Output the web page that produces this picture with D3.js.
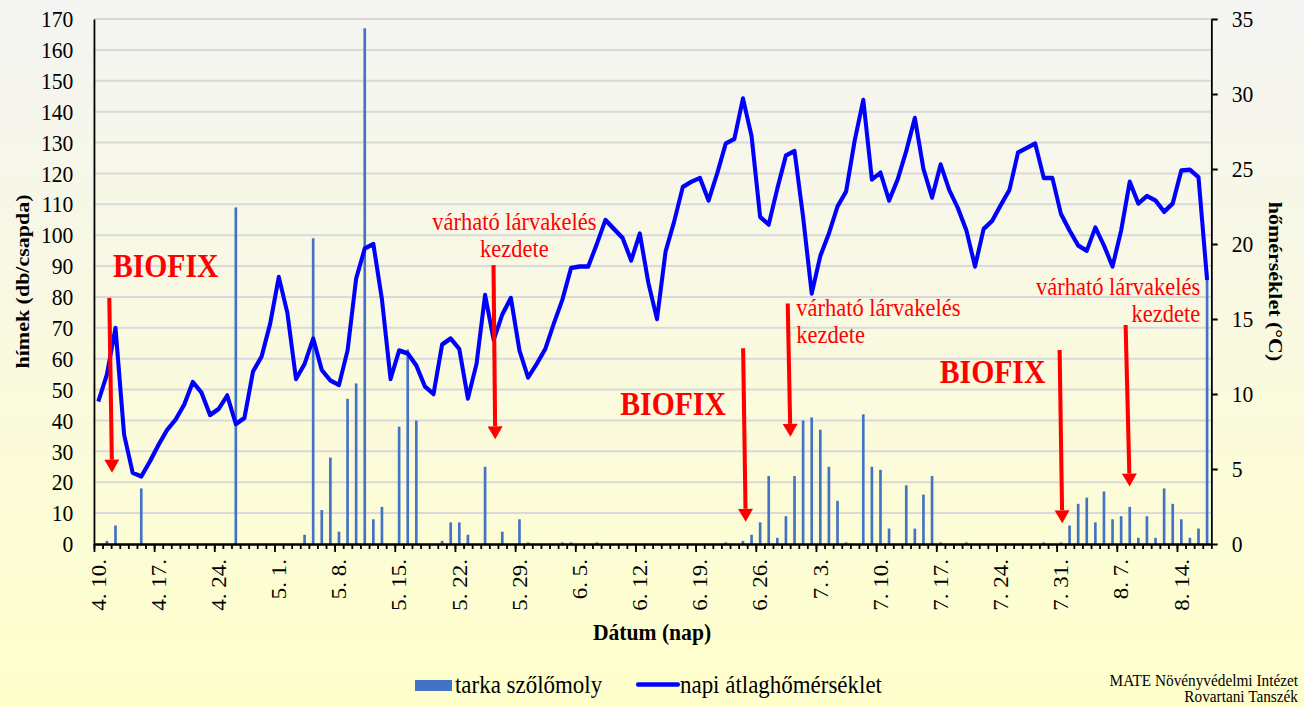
<!DOCTYPE html>
<meta charset="utf-8">
<title>Tarka szőlőmoly rajzás</title>
<html>
<style>
body { margin: 0; }
svg { display: block; font-family: "Liberation Serif", "Times New Roman", serif; }
</style>
<body>
<svg width="1304" height="707"></svg>
<script src="https://d3js.org/d3.v7.min.js"></script>
<script>
// napok: 4.10. - 8.17.
var firstDay = new Date(2023, 3, 10), dayAfterLast = new Date(2023, 7, 18);
var days = d3.timeDay.range(firstDay, dayAfterLast);
var dayLabels = days.map(d3.timeFormat("%-m. %-d."));

// tarka szőlőmoly (db/csapda), naponta
var moths = [
  0, 1, 6, 0, 0, 18, 0, 0, 0, 0,
  0, 0, 0, 0, 0, 0, 109, 0, 0, 0,
  0, 0, 0, 0, 3, 99, 11, 28, 4, 47,
  52, 167, 8, 12, 0, 38, 63, 40, 0, 0,
  1, 7, 7, 3, 0, 25, 0, 4, 0, 8,
  0.5, 0, 0, 0, 0.5, 0.5, 0, 0, 0.5, 0,
  0, 0, 0, 0, 0, 0, 0, 0, 0, 0,
  0, 0, 0, 0.5, 0, 1, 3, 7, 22, 2,
  9, 22, 40, 41, 37, 25, 14, 0.5, 0, 42,
  25, 24, 5, 0, 19, 5, 16, 22, 0.5, 0,
  0, 0.5, 0, 0, 0, 0, 0, 0, 0, 0,
  0.5, 0, 0.5, 6, 13, 15, 7, 17, 8, 9,
  12, 2, 9, 2, 18, 13, 8, 2, 5, 86
];

// napi átlaghőmérséklet (°C)
var temps = [
  9.5, 11.3, 14.4, 7.3, 4.75, 4.5, 5.5, 6.6, 7.6, 8.3,
  9.3, 10.8, 10.1, 8.6, 9.0, 9.9, 8.0, 8.4, 11.5, 12.5,
  14.7, 17.8, 15.4, 11.0, 12.0, 13.7, 11.6, 10.9, 10.6, 12.9,
  17.7, 19.7, 20.0, 16.3, 11.0, 12.9, 12.7, 11.9, 10.5, 10.0,
  13.3, 13.7, 13.0, 9.7, 12.0, 16.6, 13.6, 15.3, 16.4, 12.9,
  11.1, 12.0, 13.0, 14.7, 16.3, 18.4, 18.5, 18.5, 20.0, 21.6,
  21.0, 20.4, 18.9, 20.7, 17.4, 15.0, 19.5, 21.5, 23.8, 24.15,
  24.4, 22.9, 24.7, 26.7, 27.0, 29.7, 27.2, 21.8, 21.3, 23.7,
  25.9, 26.2, 21.8, 16.7, 19.2, 20.7, 22.5, 23.5, 26.9, 29.6,
  24.3, 24.75, 22.9, 24.3, 26.2, 28.4, 25.0, 23.1, 25.3, 23.6,
  22.4, 20.9, 18.5, 21.0, 21.55, 22.6, 23.6, 26.1, 26.4, 26.7,
  24.4, 24.4, 22.0, 20.9, 19.9, 19.55, 21.1, 19.9, 18.5, 20.9,
  24.15, 22.7, 23.2, 22.9, 22.15, 22.7, 24.9, 24.95, 24.45, 17.6
];

var leftTicks = d3.range(0, 171, 10);
var rightTicks = d3.range(0, 36, 5);
var labelStep = 7;

// nyilak: [nap, db] -> [nap, db]
var arrows = [
  [1.28, 79.7, 1.6, 23.1],
  [45.98, 90.3, 46.18, 33.9],
  [75.02, 63.4, 75.32, 7.2],
  [80.21, 77.9, 80.52, 34.7],
  [111.84, 62.8, 112.15, 6.7],
  [119.52, 70.9, 119.99, 18.6]
];
var biofix = [[1.7, 86.4], [60.73, 41.8], [97.9, 52.1]];
var larvaNotes = [
  {day: 48.4, v: 101.7, anchor: "middle"},
  {day: 81.2, v: 73.8, anchor: "start"},
  {day: 128.2, v: 80.6, anchor: "end"}
];

// the picture is squeezed horizontally a bit, so draw wider and squash
var SX = 0.9;
var W = 1304 / SX, H = 707;
var svg = d3.select("svg")
  .attr("viewBox", "0 0 " + W + " " + H)
  .attr("preserveAspectRatio", "none");

var grad = svg.append("defs").append("linearGradient")
  .attr("id", "bg").attr("x1", 0).attr("y1", 0).attr("x2", 0).attr("y2", 1);
grad.append("stop").attr("offset", "0%").attr("stop-color", "#f4f4f3");
grad.append("stop").attr("offset", "100%").attr("stop-color", "#ffffcc");
svg.append("rect").attr("width", W).attr("height", H).attr("fill", "url(#bg)");

var pLeft = 94 / SX, pRight = 1211.4 / SX, pTop = 19, pBottom = 544;

var x = d3.scaleBand().domain(dayLabels).range([pLeft, pRight]);
var xb = d3.scaleLinear().domain([0, days.length]).range([pLeft, pRight]);
var y = d3.scaleLinear().domain([0, 170]).range([pBottom, pTop]);
var yT = d3.scaleLinear().domain([0, 35]).range([pBottom, pTop]);
var xd = function(d) { return xb(d + 0.5); };

// gridlines
svg.append("g").selectAll("line")
  .data(leftTicks.slice(1))
  .join("line")
    .attr("x1", pLeft).attr("x2", pRight)
    .attr("y1", y).attr("y2", y)
    .attr("stroke", "#d9d9d9").attr("stroke-width", 2);

// bars
var bw = x.bandwidth() * 0.31;
svg.append("g").selectAll("rect")
  .data(moths.map(function(v, i) { return {day: dayLabels[i], v: v}; }).filter(function(d) { return d.v > 0; }))
  .join("rect")
    .attr("x", function(d) { return x(d.day) + x.bandwidth() / 2 - bw / 2; })
    .attr("y", function(d) { return y(d.v); })
    .attr("width", bw)
    .attr("height", function(d) { return pBottom - y(d.v); })
    .attr("fill", "#4472c4");

// temperature line
var line = d3.line()
  .x(function(d, i) { return x(dayLabels[i]) + x.bandwidth() / 2; })
  .y(function(d) { return yT(d); });
svg.append("path")
  .datum(temps)
  .attr("d", line)
  .attr("fill", "none")
  .attr("stroke", "#0000ff")
  .attr("stroke-width", 4.5)
  .attr("stroke-linejoin", "round");

// axes
function styleAxis(g, size) {
  g.attr("font-family", null).attr("font-size", null);
  g.selectAll(".domain").attr("stroke", "#000").attr("stroke-width", 2);
  g.selectAll(".tick line").attr("stroke", "#000").attr("stroke-width", 2);
  g.selectAll("text").attr("fill", "#000").attr("font-size", size);
}

svg.append("g")
  .attr("transform", "translate(" + pLeft + ",0)")
  .call(d3.axisLeft(y).tickValues(leftTicks).tickSize(0).tickPadding(23))
  .call(styleAxis, 24);

svg.append("g")
  .attr("transform", "translate(" + pRight + ",0)")
  .call(d3.axisRight(yT).tickValues(rightTicks).tickSize(7).tickSizeOuter(0).tickPadding(15.5))
  .call(styleAxis, 24);

svg.append("g")
  .attr("transform", "translate(0," + pBottom + ")")
  .call(d3.axisBottom(xb).tickValues(d3.range(0, days.length + 1)).tickSize(5).tickSizeOuter(0).tickFormat(""))
  .call(styleAxis, 10);

svg.append("g")
  .attr("transform", "translate(0," + pBottom + ")")
  .call(d3.axisBottom(xb).tickValues(d3.range(0, days.length + 1, labelStep)).tickSize(8).tickSizeOuter(0).tickFormat(""))
  .call(styleAxis, 10);

var xl = svg.append("g")
  .attr("transform", "translate(0," + pBottom + ")")
  .call(d3.axisBottom(x).tickValues(dayLabels.filter(function(d, i) { return i % labelStep === 0; })).tickSize(0))
  .call(styleAxis, 23);
xl.select(".domain").remove();
xl.selectAll("text")
  .attr("transform", "rotate(-90)")
  .attr("x", -15).attr("y", 0).attr("dy", "0.35em")
  .attr("text-anchor", "end");

// axis titles
svg.append("text")
  .attr("x", 652 / SX).attr("y", 640)
  .attr("text-anchor", "middle").attr("font-weight", "bold").attr("font-size", 24)
  .text("Dátum (nap)");

svg.append("text")
  .attr("transform", "translate(" + (29 / SX) + "," + (pTop + pBottom) / 2 + ") rotate(-90)")
  .attr("text-anchor", "middle").attr("font-weight", "bold").attr("font-size", 22)
  .text("hímek (db/csapda)");

svg.append("text")
  .attr("transform", "translate(" + (1269 / SX) + "," + (pTop + pBottom) / 2 + ") rotate(90)")
  .attr("text-anchor", "middle").attr("font-weight", "bold").attr("font-size", 22)
  .text("hőmérséklet (°C)");

// annotations
var red = "#ff0000";
var ann = svg.append("g");
arrows.forEach(function(a) {
  var x1 = xd(a[0]) * SX, y1 = y(a[1]), x2 = xd(a[2]) * SX, y2 = y(a[3]);
  var len = Math.hypot(x2 - x1, y2 - y1), ux = (x2 - x1) / len, uy = (y2 - y1) / len;
  var bx = x2 - ux * 13, by = y2 - uy * 13;
  ann.append("line")
    .attr("x1", x1 / SX).attr("y1", y1).attr("x2", bx / SX).attr("y2", by)
    .attr("stroke", red).attr("stroke-width", 4.5);
  ann.append("path")
    .attr("d", "M" + (x2 / SX) + "," + y2 +
      "L" + ((bx - uy * 7.5) / SX) + "," + (by + ux * 7.5) +
      "L" + ((bx + uy * 7.5) / SX) + "," + (by - ux * 7.5) + "Z")
    .attr("fill", red);
});

ann.selectAll("text.biofix")
  .data(biofix)
  .join("text")
    .attr("class", "biofix")
    .attr("x", function(d) { return xd(d[0]); })
    .attr("y", function(d) { return y(d[1]); })
    .attr("font-size", 33).attr("font-weight", "bold").attr("fill", red)
    .text("BIOFIX");

larvaNotes.forEach(function(n) {
  var t = ann.append("text")
    .attr("font-size", 25).attr("fill", red).attr("text-anchor", n.anchor);
  t.append("tspan").attr("x", xd(n.day)).attr("y", y(n.v)).text("várható lárvakelés");
  t.append("tspan").attr("x", xd(n.day)).attr("dy", 27).text("kezdete");
});

// legend
var lg = svg.append("g");
lg.append("rect").attr("x", 415 / SX).attr("y", 680).attr("width", 37 / SX).attr("height", 11).attr("fill", "#4472c4");
lg.append("text").attr("x", 455 / SX).attr("y", 693).attr("font-size", 25.5).text("tarka szőlőmoly");
lg.append("line").attr("x1", 638 / SX).attr("x2", 678 / SX).attr("y1", 684.5).attr("y2", 684.5)
  .attr("stroke", "#0000ff").attr("stroke-width", 4.5).attr("stroke-linecap", "round");
lg.append("text").attr("x", 680 / SX).attr("y", 693).attr("font-size", 25.5).text("napi átlaghőmérséklet");

// footer
var ft = svg.append("text").attr("text-anchor", "end").attr("font-size", 17).attr("fill", "#000");
ft.append("tspan").attr("x", 1298 / SX).attr("y", 686).text("MATE Növényvédelmi Intézet");
ft.append("tspan").attr("x", 1298 / SX).attr("y", 702).text("Rovartani Tanszék");
</script>
</body>
</html>
